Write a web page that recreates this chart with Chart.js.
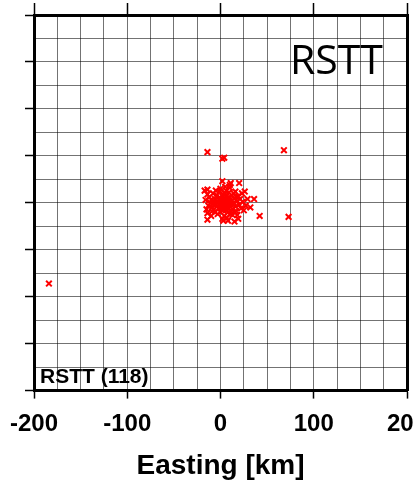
<!DOCTYPE html>
<html>
<head>
<meta charset="utf-8">
<script src="https://cdn.jsdelivr.net/npm/chart.js@4.4.1/dist/chart.umd.min.js"></script>
<style>
  html, body { margin: 0; padding: 0; background: #fff; }
  #wrap { width: 413px; height: 483px; }
</style>
</head>
<body>
<div id="wrap"><canvas id="c"></canvas></div>
<script>
// event locations, km relative to centre
const eastKm = [
  0, 3, 5, 7, 2, 8, 4, 10, 6, 1,
  -3, -5, 9, 12, 3, 11, -2, 7, 14, 5,
  -6, 0, 13, 8, -8, 15, 2, -4, 10, 4,
  -1, 6, 16, 18, -7, -10, 9, 1, 6, 4,
  2, 8, 5, 3, 7, 0, -1, 11, 9, 12,
  -9, -11, -12, 17, 19, 20, 14, -3, 0, 5,
  10, -5, 13, 7, 2, -6, 16, 21, 22, -13,
  -14, -8, 6, 3, -2, 8, 11, 1, 4, 6,
  9, -4, 12, 15, 17, -7, -9, 24, 18, 3,
  -184, -14, 68, 2, 4, -14, -17, 2, 11, 20,
  26, 29, 36, 32, 42, 73, -14, -14, 15,
  23, -15, 10, -10, 25, 19, -16, 8, 27
];
const northKm = [
  0, 2, -1, 3, -4, -2, 5, 1, -5, 3,
  1, -2, 6, -3, -8, 4, -6, 8, 0, 10,
  4, -10, -7, -10, -1, 5, 7, 8, -12, -14,
  12, 13, -4, 2, -7, 3, 11, -2, 1, -3,
  1, 0, 4, -1, -3, 5, -3, -1, -6, 8,
  -5, 0, 6, -9, 7, -2, 10, -12, 15, 17,
  16, 13, -13, -16, -17, -10, 12, 4, -6, -3,
  9, 10, -8, 9, 4, 5, -9, -6, 0, 3,
  -2, -4, 2, -10, 6, 2, -9, 1, -13, -19,
  -86, 54, 56, 47, 48, 14, 13, 23, 21, 21,
  12, 4, 4, -5, -14, -15, -11, -18, -20,
  10, -7, 19, -14, -8, -17, 3, -19, -3
];
const axisMin = -200;
const axisMax = 200;
const labelTicks = [-200, -100, 0, 100, 200];
const xTitle = 'Easting [km]';
const bigLabel = 'RSTT';
const countLabel = 'RSTT (118)';

const points = eastKm.map((x, i) => ({ x: x, y: northKm[i] }));

const gridColor = 'rgba(0,0,0,0.55)';

const textPlugin = {
  id: 'panelText',
  afterDraw(chart) {
    const ctx = chart.ctx;
    const a = chart.chartArea;
    ctx.save();
    ctx.fillStyle = '#000';
    ctx.textBaseline = 'alphabetic';
    ctx.textAlign = 'left';
    ctx.font = '41px "Open Sans"';
    ctx.fillText(bigLabel, a.left + 256, a.top + 59);
    ctx.font = 'bold 21px "Liberation Sans"';
    ctx.fillText(countLabel, a.left + 6, a.bottom - 8);
    ctx.restore();
  }
};

new Chart(document.getElementById('c'), {
  type: 'scatter',
  data: {
    datasets: [{
      data: points,
      pointStyle: 'crossRot',
      pointRadius: 4,
      pointHoverRadius: 4,
      borderColor: '#ff0000',
      backgroundColor: '#ff0000',
      pointBorderWidth: 2
    }]
  },
  options: {
    responsive: true,
    maintainAspectRatio: false,
    animation: false,
    layout: { padding: { left: 25, right: -2, top: 3, bottom: 0 } },
    plugins: {
      legend: { display: false },
      tooltip: { enabled: false }
    },
    scales: {
      x: {
        type: 'linear',
        position: 'bottom',
        min: axisMin,
        max: axisMax,
        afterFit(scale) { scale.paddingLeft = 0; scale.paddingRight = 0; },
        ticks: {
          stepSize: 25,
          autoSkip: false,
          maxRotation: 0,
          padding: 11,
          color: '#000',
          font: { family: 'Liberation Sans', weight: 'bold', size: 24 },
          callback: v => labelTicks.includes(v) ? String(v) : ''
        },
        grid: {
          color: gridColor,
          lineWidth: 1,
          tickLength: 8,
          tickWidth: 1.5,
          tickColor: c => (c.tick && c.tick.value % 100 === 0) ? '#000' : 'rgba(0,0,0,0)'
        },
        border: { display: true, color: '#000', width: 3 },
        title: {
          display: true,
          text: xTitle,
          color: '#000',
          font: { family: 'Liberation Sans', weight: 'bold', size: 28 },
          padding: { top: 0, bottom: 0 }
        }
      },
      x2: {
        type: 'linear',
        position: 'top',
        min: axisMin,
        max: axisMax,
        afterFit(scale) { scale.paddingLeft = 0; scale.paddingRight = 0; },
        ticks: { stepSize: 100, display: false },
        grid: {
          drawOnChartArea: false,
          tickLength: 12,
          tickWidth: 1.5,
          tickColor: '#000'
        },
        border: { display: true, color: '#000', width: 3 }
      },
      y: {
        type: 'linear',
        position: 'left',
        min: axisMin,
        max: axisMax,
        afterFit(scale) { scale.paddingTop = 0; scale.paddingBottom = 0; },
        ticks: { stepSize: 25, display: false, autoSkip: false },
        grid: {
          color: gridColor,
          lineWidth: 1,
          tickLength: 9,
          tickWidth: 1.5,
          tickColor: c => (c.tick && c.tick.value % 50 === 0) ? '#000' : 'rgba(0,0,0,0)'
        },
        border: { display: true, color: '#000', width: 3 }
      },
      y2: {
        type: 'linear',
        position: 'right',
        min: axisMin,
        max: axisMax,
        afterFit(scale) { scale.width = 0; scale.paddingTop = 0; scale.paddingBottom = 0; },
        ticks: { display: false },
        grid: { drawOnChartArea: false, drawTicks: false },
        border: { display: true, color: '#000', width: 3 }
      }
    }
  },
  plugins: [textPlugin]
});
</script>
</body>
</html>
